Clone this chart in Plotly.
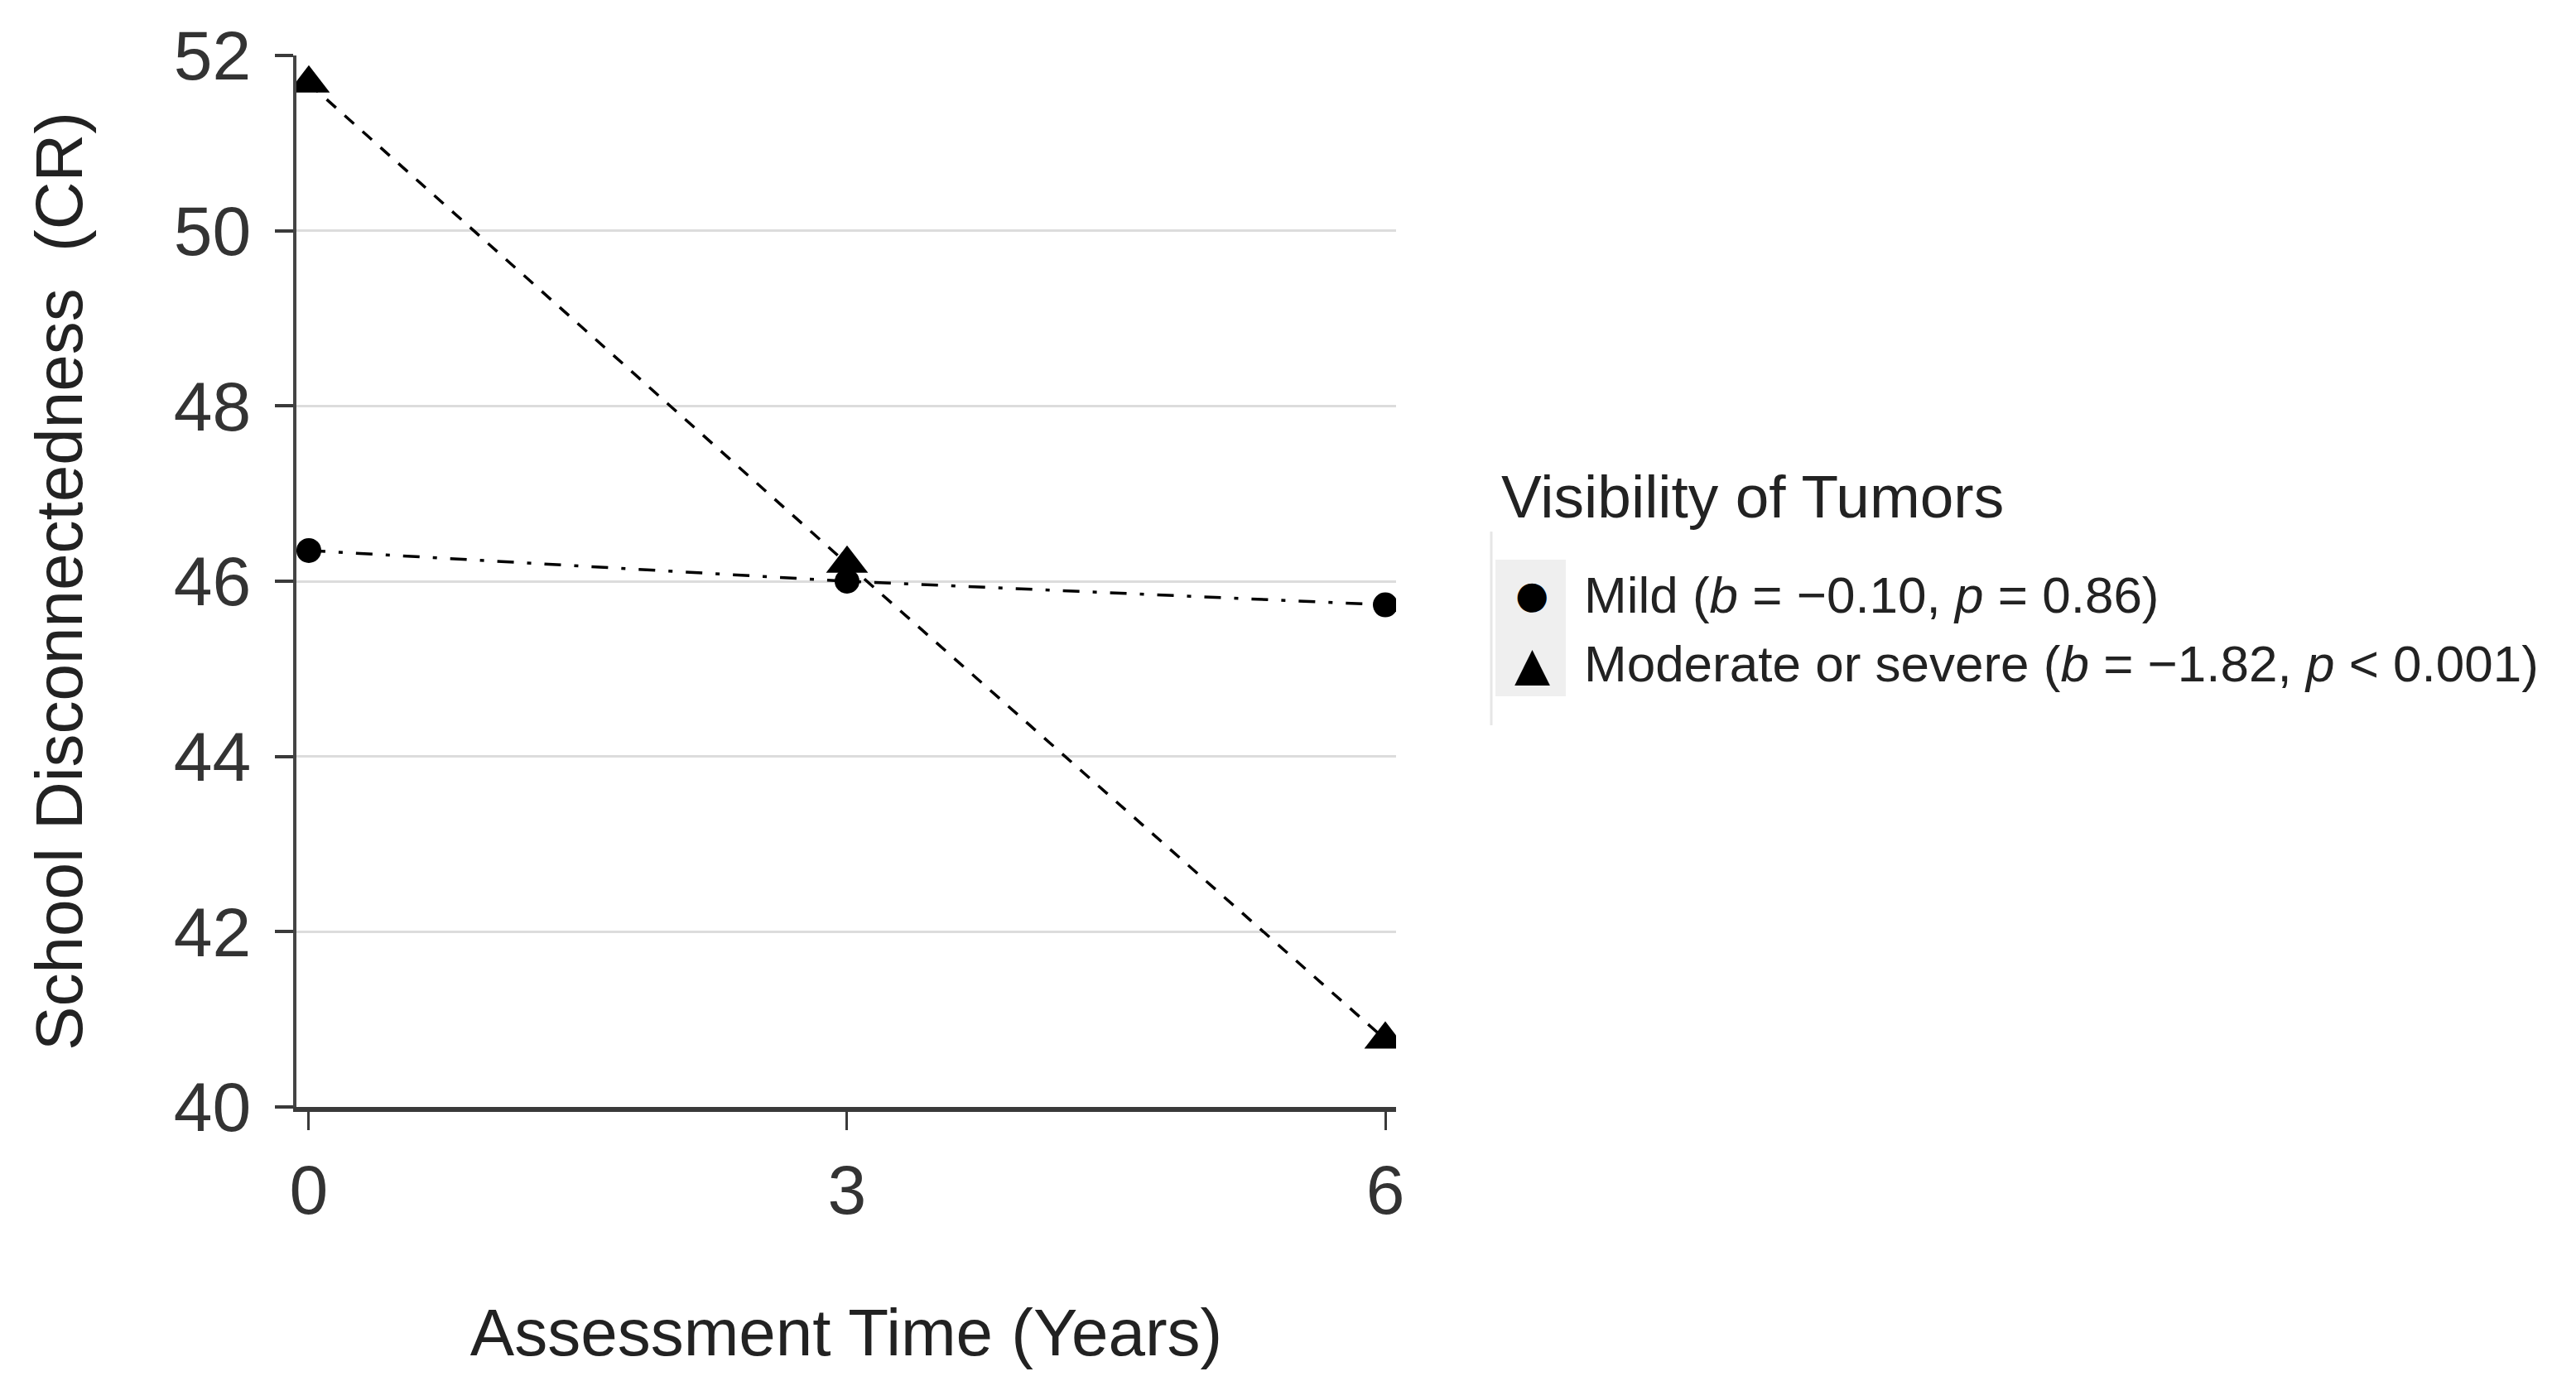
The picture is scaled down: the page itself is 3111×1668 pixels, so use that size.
import plotly.graph_objects as go

years = [0, 3, 6]
mild = [46.35, 46.0, 45.73]
moderate = [51.68, 46.2, 40.77]
series_names = ["Mild (<i>b</i> = \u22120.10, <i>p</i> = 0.86)",
                "Moderate or severe (<i>b</i> = \u22121.82, <i>p</i> < 0.001)"]
legend_symbols = ["\u25cf", "\u25b2"]
legend_title = "Visibility of Tumors"
y_ticks = [40, 42, 44, 46, 48, 50, 52]
x_ticks = [0, 3, 6]

FONT = "Liberation Sans, Arial, sans-serif"
TXT = "#333333"

fig = go.Figure()
# lines
fig.add_trace(go.Scatter(x=years, y=mild, mode="lines", showlegend=False,
                         line=dict(color="black", width=3.5, dash="20px,16px,5px,16px"),
                         hoverinfo="skip"))
fig.add_trace(go.Scatter(x=years, y=moderate, mode="lines", showlegend=False,
                         line=dict(color="black", width=3.5, dash="15px,14px"),
                         hoverinfo="skip"))
# markers
fig.add_trace(go.Scatter(x=years, y=mild, mode="markers", name=series_names[0], showlegend=False,
                         marker=dict(symbol="circle", size=30, color="black")))
fig.add_trace(go.Scatter(x=years, y=moderate, mode="markers", name=series_names[1], showlegend=False,
                         marker=dict(symbol="triangle-up", size=44, color="black")))

# legend drawn as annotations (large symbols like the reference)
entry_y = [0.4874, 0.4213]
annotations = [
    dict(text=legend_title, xref="paper", yref="paper", x=1.0941, y=0.5811,
         xanchor="left", yanchor="middle", showarrow=False,
         font=dict(size=73, color="#222")),
]
sym_sizes = [46, 56]
for name, sym, yy, ss in zip(series_names, legend_symbols, entry_y, sym_sizes):
    annotations.append(dict(text=sym, xref="paper", yref="paper", x=1.1235, y=yy,
                            xanchor="center", yanchor="middle", showarrow=False,
                            font=dict(size=ss, color="black", family="DejaVu Sans")))
    annotations.append(dict(text=name, xref="paper", yref="paper", x=1.1694, y=yy,
                            xanchor="left", yanchor="middle", showarrow=False,
                            font=dict(size=62, color="#222")))

fig.update_layout(
    width=3111, height=1668,
    margin=dict(l=350, r=1433, t=59, b=339),
    plot_bgcolor="white", paper_bgcolor="white",
    font=dict(family=FONT, color=TXT),
    showlegend=False,
    annotations=annotations,
    xaxis=dict(
        range=[-0.069, 6.06], tickvals=x_ticks, ticktext=[str(v) for v in x_ticks],
        showgrid=False, zeroline=False,
        showline=True, linecolor="#3a3a3a", linewidth=6,
        ticks="outside", ticklen=22, tickwidth=3, tickcolor="#3a3a3a",
        tickfont=dict(size=84, color=TXT),
        title=dict(text="Assessment Time (Years)", font=dict(size=80, color="#222"), standoff=100),
    ),
    yaxis=dict(
        range=[40, 52], tickvals=y_ticks, ticktext=[str(v) for v in y_ticks],
        showgrid=True, gridcolor="#dcdcdc", gridwidth=3, zeroline=False,
        showline=True, linecolor="#444444", linewidth=4,
        ticks="outside", ticklen=22, tickwidth=4, tickcolor="#3a3a3a",
        ticklabelstandoff=12,
        tickfont=dict(size=84, color=TXT),
        title=dict(text="School Disconnectedness  (CR)", font=dict(size=80, color="#222"), standoff=85),
    ),
    shapes=[
        dict(type="rect", xref="paper", yref="paper", x0=1.0904, x1=1.1544, y0=0.3906, y1=0.5205,
             fillcolor="#efefef", line=dict(width=0), layer="below"),
        dict(type="line", xref="paper", yref="paper", x0=1.0866, x1=1.0866, y0=0.3630, y1=0.5472,
             line=dict(color="#e6e6e6", width=3)),
    ],
)

fig.write_html("out.html")
